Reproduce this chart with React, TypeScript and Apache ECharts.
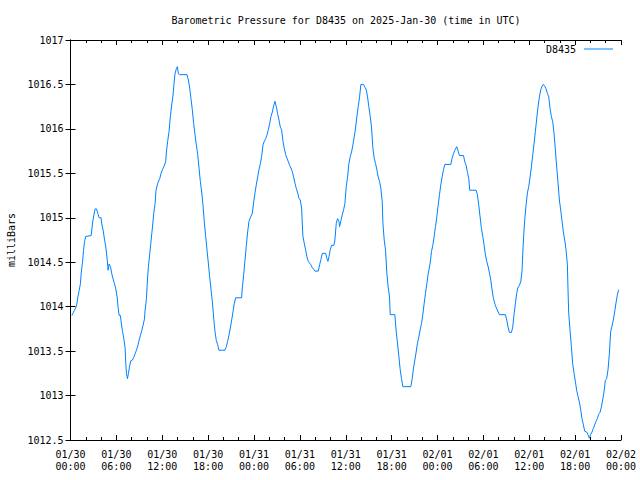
import React, { useEffect, useRef } from "react";
import * as echarts from "echarts";

const seriesName = "D8435";
const titleText = "Barometric Pressure for D8435 on 2025-Jan-30 (time in UTC)";
const yAxisTitle = "milliBars";

// hours since 2025-01-30 00:00 UTC
const hours = [
  0.17, 0.35, 0.52, 0.7, 0.83, 0.96, 1.13, 1.3, 1.39, 1.57, 1.7, 1.83, 2.0, 2.7, 2.87, 3.05, 3.22, 3.4, 3.57, 3.75,
  4.0, 4.09, 4.27, 4.44, 4.62, 4.79, 4.92, 5.05, 5.23, 5.4, 5.57, 5.75, 5.92, 6.1, 6.23, 6.36, 6.53, 6.62, 6.79, 6.97,
  7.14, 7.23, 7.32, 7.45, 7.58, 7.71, 7.88, 8.1, 8.28, 8.45, 8.62, 8.8, 8.97, 9.15, 9.32, 9.49, 9.67, 9.76, 9.93, 10.06,
  10.19, 10.37, 10.5, 10.63, 10.76, 10.89, 11.06, 11.19, 11.41, 11.67, 11.84, 12.02, 12.19, 12.45, 12.54, 12.71, 12.89, 13.06, 13.24, 13.41,
  13.54, 13.67, 13.85, 13.98, 14.11, 14.28, 15.24, 15.42, 15.59, 15.76, 15.94, 16.11, 16.29, 16.46, 16.64, 16.81, 16.98, 17.16, 17.33, 17.51,
  17.68, 17.85, 18.03, 18.2, 18.38, 18.55, 18.73, 18.9, 19.07, 19.25, 19.42, 20.2, 20.38, 20.55, 20.73, 20.9, 21.08, 21.25, 21.43, 21.6,
  22.38, 22.47, 22.65, 22.82, 23.0, 23.17, 23.34, 23.56, 23.78, 23.96, 24.13, 24.3, 24.48, 24.65, 24.83, 25.0, 25.18, 25.35, 25.52, 25.7,
  25.87, 26.05, 26.22, 26.4, 26.57, 26.74, 26.92, 27.09, 27.27, 27.44, 27.61, 27.79, 27.96, 28.14, 28.31, 28.49, 28.66, 28.83, 29.01, 29.18,
  29.36, 29.53, 29.71, 29.88, 30.05, 30.23, 30.32, 30.4, 30.58, 30.75, 30.92, 31.1, 31.27, 31.45, 31.62, 31.8, 31.97, 32.41, 32.58, 32.75,
  32.93, 33.36, 33.54, 33.67, 33.8, 33.97, 34.15, 34.45, 34.58, 34.76, 34.93, 35.11, 35.19, 35.37, 35.54, 35.72, 35.89, 36.06, 36.24, 36.41,
  36.59, 36.76, 36.94, 37.11, 37.28, 37.46, 37.63, 37.81, 37.98, 38.33, 38.5, 38.68, 38.85, 39.02, 39.2, 39.37, 39.55, 39.72, 39.9, 40.07,
  40.24, 40.42, 40.59, 40.77, 40.86, 41.03, 41.2, 41.38, 41.55, 41.73, 41.81, 42.42, 42.6, 42.77, 42.95, 43.12, 43.29, 43.47, 44.51, 44.69,
  44.86, 45.04, 45.21, 45.38, 45.56, 45.73, 45.91, 46.08, 46.26, 46.43, 46.61, 46.78, 46.87, 47.04, 47.21, 47.39, 47.56, 47.74, 47.91, 48.09,
  48.26, 48.43, 48.61, 48.78, 48.96, 49.74, 49.91, 50.09, 50.26, 50.52, 50.7, 50.87, 51.4, 51.57, 51.74, 51.92, 52.09, 52.22, 53.05, 53.22,
  53.4, 53.57, 53.75, 53.92, 54.1, 54.27, 54.44, 54.62, 54.79, 54.97, 55.14, 55.32, 55.58, 55.93, 56.1, 56.88, 57.06, 57.23, 57.41, 57.67,
  57.84, 58.02, 58.19, 58.36, 58.5, 58.71, 58.89, 59.06, 59.15, 59.28, 59.41, 59.58, 59.76, 59.93, 60.11, 60.28, 60.46, 60.63, 60.8, 60.98,
  61.15, 61.33, 61.5, 61.67, 61.85, 62.02, 62.2, 62.37, 62.55, 62.72, 62.89, 63.07, 63.24, 63.42, 63.59, 63.77, 63.94, 64.11, 64.29, 64.46,
  64.64, 64.81, 64.99, 65.07, 65.16, 65.33, 65.51, 65.68, 65.86, 66.03, 66.2, 66.38, 66.55, 66.73, 66.9, 67.08, 67.25, 67.51, 67.69, 67.86,
  68.03, 68.21, 68.38, 68.56, 68.73, 68.9, 69.08, 69.25, 69.43, 69.6, 69.78, 69.95, 70.12, 70.3, 70.47, 70.65, 70.82, 70.99, 71.17, 71.34,
  71.52, 71.69,
];

const pressure = [
  1013.9, 1013.93, 1013.96, 1013.99, 1014.03, 1014.11, 1014.18, 1014.26, 1014.37, 1014.5, 1014.63, 1014.73, 1014.79, 1014.8, 1014.93, 1015.03, 1015.1, 1015.1, 1015.05, 1015.0,
  1015.0, 1014.93, 1014.86, 1014.76, 1014.67, 1014.54, 1014.41, 1014.48, 1014.45, 1014.37, 1014.31, 1014.26, 1014.2, 1014.11, 1013.99, 1013.9, 1013.9, 1013.83, 1013.73, 1013.64,
  1013.54, 1013.36, 1013.25, 1013.19, 1013.25, 1013.32, 1013.39, 1013.4, 1013.43, 1013.47, 1013.51, 1013.56, 1013.62, 1013.68, 1013.73, 1013.79, 1013.86, 1013.96, 1014.09, 1014.3,
  1014.45, 1014.6, 1014.71, 1014.82, 1014.93, 1015.05, 1015.16, 1015.31, 1015.39, 1015.44, 1015.5, 1015.54, 1015.57, 1015.63, 1015.74, 1015.86, 1015.97, 1016.14, 1016.27, 1016.38,
  1016.51, 1016.62, 1016.68, 1016.7, 1016.62, 1016.61, 1016.61, 1016.55, 1016.46, 1016.34, 1016.21, 1016.06, 1015.93, 1015.82, 1015.71, 1015.56, 1015.41, 1015.29, 1015.14, 1014.94,
  1014.79, 1014.64, 1014.49, 1014.34, 1014.19, 1014.06, 1013.87, 1013.72, 1013.62, 1013.57, 1013.51, 1013.51, 1013.55, 1013.61, 1013.68, 1013.76, 1013.85, 1013.94, 1014.04, 1014.1,
  1014.1, 1014.21, 1014.36, 1014.52, 1014.69, 1014.84, 1014.96, 1015.01, 1015.05, 1015.18, 1015.28, 1015.37, 1015.46, 1015.54, 1015.61, 1015.69, 1015.82, 1015.86, 1015.89, 1015.93,
  1015.99, 1016.06, 1016.14, 1016.19, 1016.26, 1016.31, 1016.25, 1016.17, 1016.1, 1016.02, 1015.99, 1015.86, 1015.78, 1015.71, 1015.67, 1015.63, 1015.59, 1015.56, 1015.52, 1015.46,
  1015.39, 1015.33, 1015.28, 1015.22, 1015.2, 1015.11, 1014.92, 1014.79, 1014.71, 1014.64, 1014.56, 1014.51, 1014.49, 1014.47, 1014.44, 1014.42, 1014.4, 1014.4, 1014.47, 1014.53,
  1014.6, 1014.6, 1014.54, 1014.51, 1014.56, 1014.64, 1014.69, 1014.69, 1014.75, 1014.94, 1014.99, 1014.96, 1014.9, 1014.97, 1015.03, 1015.09, 1015.16, 1015.35, 1015.46, 1015.61,
  1015.69, 1015.74, 1015.82, 1015.91, 1016.01, 1016.14, 1016.25, 1016.36, 1016.5, 1016.5, 1016.47, 1016.44, 1016.36, 1016.25, 1016.14, 1016.02, 1015.78, 1015.67, 1015.61, 1015.54,
  1015.46, 1015.41, 1015.33, 1015.18, 1014.94, 1014.75, 1014.64, 1014.37, 1014.22, 1014.11, 1013.91, 1013.91, 1013.72, 1013.59, 1013.44, 1013.29, 1013.19, 1013.1, 1013.1, 1013.19,
  1013.31, 1013.4, 1013.49, 1013.59, 1013.66, 1013.74, 1013.81, 1013.91, 1014.04, 1014.15, 1014.26, 1014.37, 1014.41, 1014.49, 1014.62, 1014.69, 1014.79, 1014.9, 1015.01, 1015.14,
  1015.26, 1015.37, 1015.46, 1015.54, 1015.6, 1015.6, 1015.67, 1015.72, 1015.76, 1015.8, 1015.75, 1015.7, 1015.7, 1015.63, 1015.59, 1015.51, 1015.44, 1015.31, 1015.31, 1015.26,
  1015.14, 1015.01, 1014.88, 1014.79, 1014.69, 1014.58, 1014.51, 1014.45, 1014.38, 1014.3, 1014.19, 1014.09, 1014.01, 1013.94, 1013.91, 1013.91, 1013.85, 1013.77, 1013.71, 1013.71,
  1013.77, 1013.92, 1014.04, 1014.15, 1014.21, 1014.24, 1014.28, 1014.41, 1014.6, 1014.81, 1014.98, 1015.14, 1015.28, 1015.35, 1015.46, 1015.57, 1015.71, 1015.84, 1015.97, 1016.12,
  1016.25, 1016.36, 1016.44, 1016.48, 1016.5, 1016.48, 1016.45, 1016.4, 1016.36, 1016.23, 1016.14, 1016.08, 1015.95, 1015.76, 1015.57, 1015.39, 1015.2, 1015.09, 1014.96, 1014.84,
  1014.75, 1014.64, 1014.47, 1014.19, 1013.93, 1013.74, 1013.55, 1013.36, 1013.25, 1013.16, 1013.06, 1012.99, 1012.93, 1012.84, 1012.74, 1012.67, 1012.6, 1012.59, 1012.56, 1012.52,
  1012.56, 1012.59, 1012.63, 1012.67, 1012.71, 1012.74, 1012.79, 1012.81, 1012.87, 1012.95, 1013.04, 1013.17, 1013.19, 1013.29, 1013.46, 1013.72, 1013.78, 1013.85, 1013.94, 1014.04,
  1014.13, 1014.19,
];

const xTickLabels = [
  "01/30\n00:00", "01/30\n06:00", "01/30\n12:00", "01/30\n18:00",
  "01/31\n00:00", "01/31\n06:00", "01/31\n12:00", "01/31\n18:00",
  "02/01\n00:00", "02/01\n06:00", "02/01\n12:00", "02/01\n18:00",
  "02/02\n00:00",
];

const FONT = "DejaVu Sans Mono";

export default function App() {
  const ref = useRef<HTMLDivElement>(null);
  useEffect(() => {
    if (!ref.current) return;
    const chart = echarts.init(ref.current, undefined, { renderer: "svg" });
    const data = hours.map((h, i) => [h, pressure[i]]);
    const axisLine = { show: true, lineStyle: { color: "#000", width: 1 } };
    const xCommon = {
      type: "value" as const,
      min: 0,
      max: 72,
      interval: 6,
      axisLine,
      axisTick: { show: true, inside: true, length: 5, lineStyle: { color: "#000" } },
      minorTick: { show: true, splitNumber: 3, length: 3, lineStyle: { color: "#000" } },
      splitLine: { show: false },
    };
    const yCommon = {
      type: "value" as const,
      min: 1012.5,
      max: 1017,
      interval: 0.5,
      axisLine,
      axisTick: { show: true, inside: true, length: 5, lineStyle: { color: "#000" } },
      splitLine: { show: false },
    };
    chart.setOption({
      animation: false,
      backgroundColor: "#fff",
      grid: {
        left: 70.5,
        right: 19,
        top: 40,
        bottom: 40,
        containLabel: false,
        outerBoundsMode: "none",
      },
      graphic: [
        {
          type: "text",
          x: 346,
          y: 20,
          style: {
            text: titleText,
            fontFamily: FONT,
            fontSize: 10,
            fill: "#000",
            align: "center",
            verticalAlign: "middle",
          },
        },
      ],
      legend: {
        data: [seriesName],
        right: 27,
        top: 44,
        padding: 0,
        align: "right",
        icon: "rect",
        itemWidth: 29,
        itemHeight: 1,
        textStyle: { fontFamily: FONT, fontSize: 10, color: "#000", padding: [0, 3, 0, 0] },
      },
      xAxis: [
        {
          ...xCommon,
          position: "bottom",
          axisLabel: {
            show: true,
            showMinLabel: true,
            showMaxLabel: true,
            margin: 8,
            fontFamily: FONT,
            fontSize: 10,
            color: "#000",
            lineHeight: 12.5,
            formatter: (v: number) => xTickLabels[Math.round(v / 6)] ?? "",
          },
        },
        { ...xCommon, position: "top", axisLabel: { show: false } },
      ],
      yAxis: [
        {
          ...yCommon,
          position: "left",
          name: yAxisTitle,
          nameLocation: "middle",
          nameGap: 54,
          nameTextStyle: { fontFamily: FONT, fontSize: 10, color: "#000" },
          axisLabel: {
            show: true,
            margin: 7,
            fontFamily: FONT,
            fontSize: 10,
            color: "#000",
            formatter: (v: number) => String(Math.round(v * 10) / 10),
          },
        },
        { ...yCommon, position: "right", axisLabel: { show: false } },
      ],
      series: [
        {
          name: seriesName,
          type: "line",
          data,
          showSymbol: false,
          symbol: "none",
          lineStyle: { color: "#0080ff", width: 1 },
          itemStyle: { color: "#0080ff" },
        },
      ],
    });
    return () => chart.dispose();
  }, []);
  return (
    <div
      ref={ref}
      style={{ position: "fixed", left: 0, top: 0, width: 640, height: 480, background: "#fff" }}
    />
  );
}
